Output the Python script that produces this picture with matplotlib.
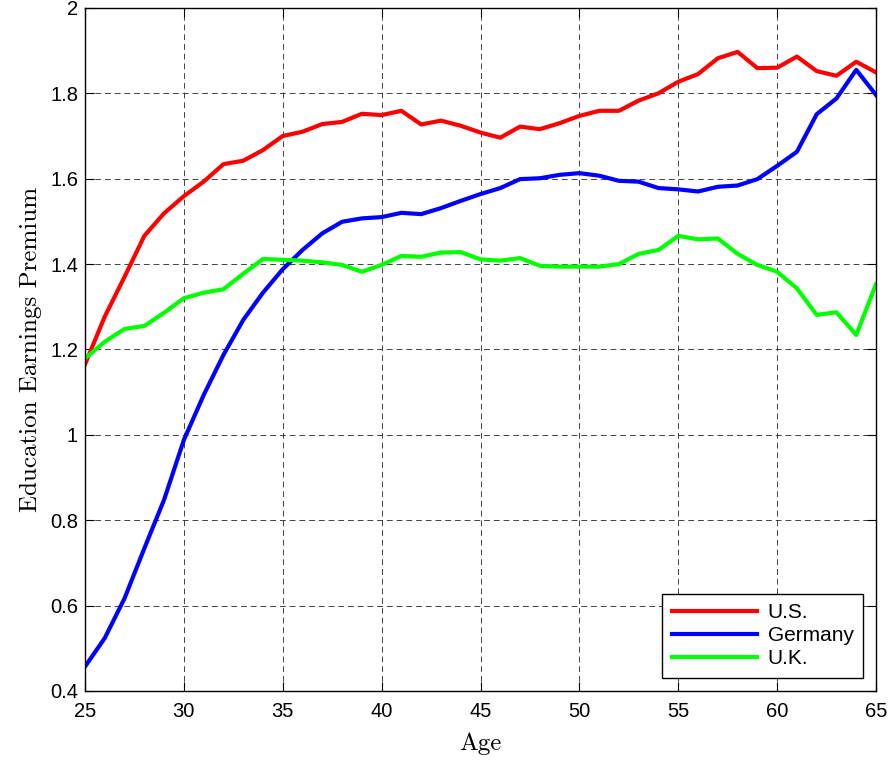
import matplotlib
matplotlib.use('Agg')
from matplotlib import pyplot as plt
from matplotlib.ticker import FuncFormatter

age = list(range(25, 66))

us = [1.165, 1.277, 1.370, 1.466, 1.519, 1.559, 1.593, 1.634, 1.642, 1.667,
      1.700, 1.710, 1.728, 1.733, 1.752, 1.749, 1.759, 1.727, 1.736, 1.724,
      1.708, 1.696, 1.722, 1.716, 1.730, 1.747, 1.759, 1.759, 1.783, 1.800,
      1.827, 1.845, 1.882, 1.897, 1.859, 1.860, 1.886, 1.852, 1.841, 1.874,
      1.849]

germany = [0.457, 0.524, 0.617, 0.734, 0.848, 0.988, 1.093, 1.187, 1.269, 1.333,
           1.388, 1.433, 1.472, 1.499, 1.507, 1.510, 1.520, 1.517, 1.531, 1.548,
           1.564, 1.578, 1.599, 1.601, 1.609, 1.613, 1.607, 1.595, 1.593, 1.578,
           1.575, 1.570, 1.581, 1.584, 1.599, 1.630, 1.663, 1.751, 1.788, 1.855,
           1.796]

uk = [1.179, 1.218, 1.248, 1.255, 1.286, 1.320, 1.333, 1.341, 1.377, 1.412,
      1.410, 1.408, 1.404, 1.398, 1.382, 1.398, 1.419, 1.417, 1.427, 1.428,
      1.411, 1.408, 1.414, 1.396, 1.394, 1.394, 1.394, 1.400, 1.424, 1.433,
      1.466, 1.458, 1.460, 1.424, 1.398, 1.382, 1.343, 1.281, 1.287, 1.234,
      1.353]

fig = plt.figure(figsize=(8.89, 7.61), dpi=100)
ax = fig.add_axes([0.0956, 0.092, 0.8898, 0.8976])

ax.plot(age, us, color='#ff0000', linewidth=3, label='U.S.')
ax.plot(age, germany, color='#0000ff', linewidth=3, label='Germany')
ax.plot(age, uk, color='#00ff00', linewidth=3, label='U.K.')

ax.set_xlim(25, 65)
ax.set_ylim(0.4, 2)
ax.set_xticks(range(25, 66, 5))
ax.set_yticks([0.4, 0.6, 0.8, 1, 1.2, 1.4, 1.6, 1.8, 2])
ax.yaxis.set_major_formatter(FuncFormatter(lambda v, p: '%g' % v))

# matlab look
ax.grid(True, color='#222222', linestyle=(0, (6, 4)), linewidth=0.7, alpha=0.85)
ax.tick_params(direction='in', top=True, right=True, length=6.5, width=0.8,
               labelsize=14.5)
ax.tick_params(axis='x', pad=8)
ax.tick_params(axis='y', pad=5)
for lab in ax.get_xticklabels() + ax.get_yticklabels():
    lab.set_fontname('Liberation Sans')
for s in ax.spines.values():
    s.set_linewidth(1.0)

ax.set_xlabel('Age', fontname='cmr10', fontsize=18, labelpad=8)
ax.set_ylabel('Education Earnings Premium', fontname='cmr10', fontsize=18, labelpad=6)

leg = ax.legend(loc='lower right', fancybox=False, edgecolor='black',
                framealpha=1, handlelength=4.1, handletextpad=0.5,
                labelspacing=0.2, borderpad=0.45, borderaxespad=0.63,
                prop={'family': 'Liberation Sans', 'size': 15})
leg.get_frame().set_linewidth(1.0)

fig.savefig('out.png', dpi=100)
